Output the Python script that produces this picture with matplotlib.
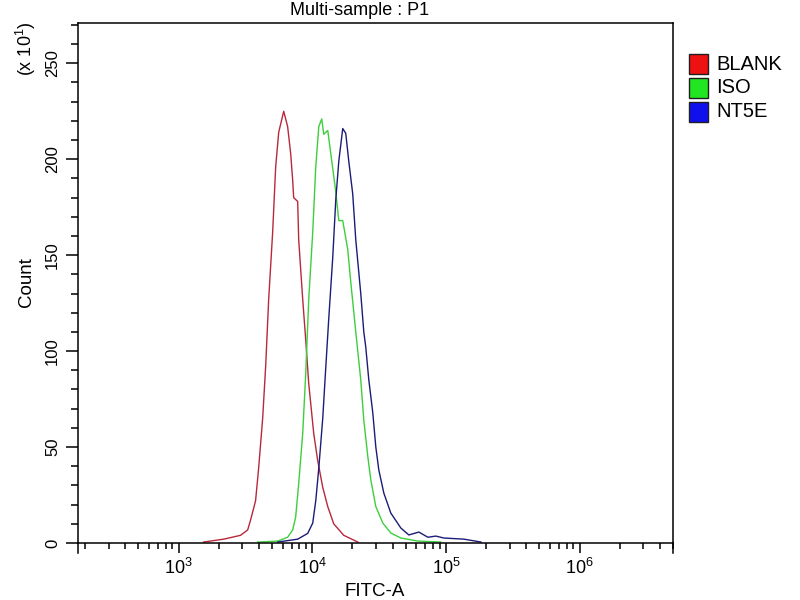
import matplotlib.pyplot as plt
from matplotlib.patches import Rectangle
from matplotlib.ticker import LogLocator, MultipleLocator, NullFormatter

# histogram outlines (counts shown in units of x10)
blank_x = [1540, 2175, 2910, 3290, 3460, 3770, 3975, 4260, 4485, 4725, 5060,
           5330, 5615, 6120, 6550, 6900, 7145, 7265, 7785, 7925, 8490, 8940,
           9420, 10270, 10990, 11990, 13070, 14490, 17220, 21930]
blank_y = [0.5, 2, 4, 6.8, 12, 22, 39, 65, 92, 127, 162,
           196, 214, 225, 217, 203, 189, 180, 178, 158, 127, 106,
           83, 57, 43, 29, 19, 10, 4, 0.5]

iso_x = [3910, 5520, 6550, 7145, 7520, 7925, 8490, 8940, 9420, 10090, 10630,
         11200, 11780, 12200, 13070, 13770, 15010, 15810, 16920, 18440, 19430,
         21180, 23080, 24320, 26060, 27420, 29910, 33740, 38730, 46030, 61700,
         91800]
iso_y = [0.5, 1, 3, 6.8, 13.5, 31, 57, 88, 127, 162, 196,
         217, 221, 213, 215, 203, 183, 168, 168, 153, 136,
         110, 85, 64, 45, 33, 19, 10.4, 5.2, 2.6, 1,
         0.5]

nt5e_x = [5520, 7785, 9250, 10090, 10630, 11200, 11990, 12620, 13300, 14250,
          15010, 15810, 16920, 17820, 18770, 20090, 21180, 23080, 24320, 25160,
          26510, 28380, 29910, 31510, 34340, 38730, 46030, 52830, 62800, 73300,
          84100, 96600, 136400, 183000]
nt5e_y = [0.5, 2, 5, 10.4, 22, 39, 65, 91, 117, 149,
          179, 199, 216, 213.5, 199, 182, 158, 130, 110, 102,
          85, 68, 50, 38, 26, 15.6, 7.8, 4.2, 5.7, 3,
          3.6, 2.6, 2, 0.5]

names = ["BLANK", "ISO", "NT5E"]
line_colors = ["#b8283c", "#3ccf3c", "#1c1c78"]
box_colors = ["#ee1111", "#22e622", "#1010ee"]

y_ticks = [0, 50, 100, 150, 200, 250]

plt.rcParams['font.family'] = ['Liberation Sans', 'DejaVu Sans']
plt.rcParams['mathtext.fontset'] = 'custom'
plt.rcParams['mathtext.rm'] = 'Liberation Sans'
plt.rcParams['mathtext.it'] = 'Liberation Sans:italic'

fig = plt.figure(figsize=(8, 6), dpi=100)
ax = fig.add_axes([0.0975, 0.095, 0.74375, 0.86667])

series = [(blank_x, blank_y), (iso_x, iso_y), (nt5e_x, nt5e_y)]
for (xs, ys), col in zip(series, line_colors):
    ax.plot(xs, ys, color=col, lw=1.0)

ax.set_xscale('log')
ax.set_xlim(177, 5e6)
ax.set_ylim(0, 271)

ax.xaxis.set_major_locator(LogLocator(base=10))
ax.xaxis.set_minor_locator(LogLocator(base=10, subs=range(2, 10)))
ax.xaxis.set_minor_formatter(NullFormatter())
ax.yaxis.set_minor_locator(MultipleLocator(10))
ax.set_yticks(y_ticks)
ax.set_yticklabels([str(v) for v in y_ticks], rotation=90, va='center',
                   family=['Liberation Sans Narrow', 'Liberation Sans'],
                   fontsize=12)

for lab in ax.get_xticklabels():
    lab.set_fontsize(13)

ax.tick_params(axis='x', which='major', length=7.5, width=1.1, pad=3)
ax.tick_params(axis='x', which='minor', length=4.5, width=1.1)
ax.tick_params(axis='y', which='major', length=9, width=1.1, pad=4)
ax.tick_params(axis='y', which='minor', length=5, width=1.1)

for sp in ax.spines.values():
    sp.set_linewidth(1.1)

# the side spines run a little past the zero line
for xa in (0, 1):
    ax.plot([xa, xa], [0, -0.0192], transform=ax.transAxes, color='black',
            lw=1.1, clip_on=False)

fig.text(360 / 800, 1 - 15 / 600, "Multi-sample : P1", ha='center',
         va='baseline', fontsize=13)
fig.text(375 / 800, 1 - 591 / 600, "FITC-A", ha='center', va='center',
         fontsize=13.5)
fig.text(27 / 800, 1 - 282 / 600, "Count", ha='center', va='center',
         rotation=90, fontsize=13.5)
fig.text(26 / 800, 1 - 49 / 600, r"(x 10$^{1}$)", ha='center', va='center',
         rotation=90, fontsize=13)

# legend boxes on the right
for i, (name, col) in enumerate(zip(names, box_colors)):
    top = 54 + 23.8 * i
    fig.patches.append(Rectangle((689 / 800, 1 - (top + 20) / 600),
                                 19 / 800, 20 / 600,
                                 transform=fig.transFigure, facecolor=col,
                                 edgecolor='#202020', lw=1.0))
    fig.text(716 / 800, 1 - (top + 10) / 600, name, ha='left', va='center',
             fontsize=14.5)

fig.savefig("out.png", dpi=100)
